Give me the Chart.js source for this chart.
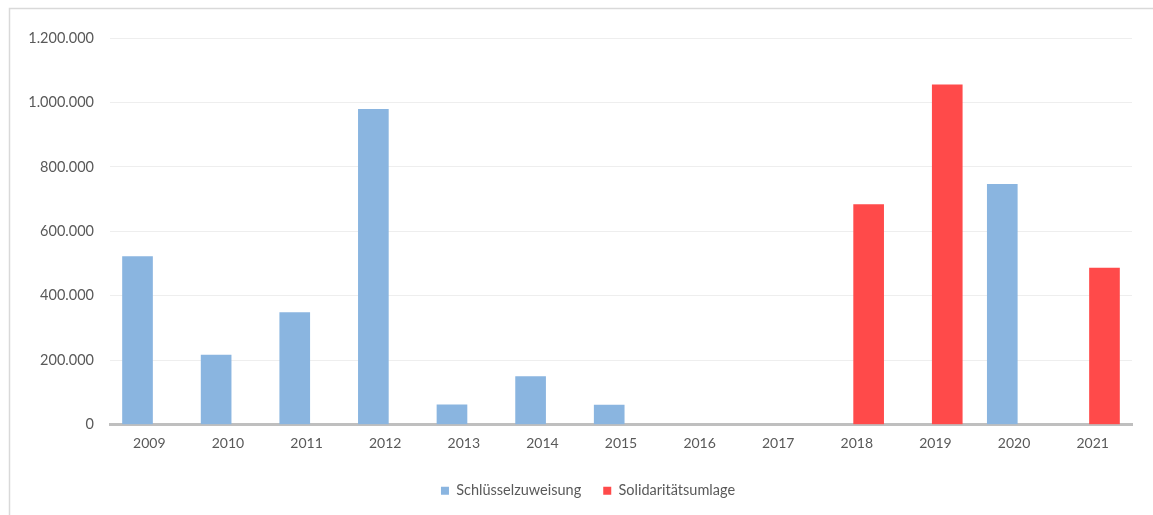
<!DOCTYPE html>
<html><head><meta charset="utf-8">
<script src="https://cdn.jsdelivr.net/npm/chart.js@4.4.0/dist/chart.umd.min.js"></script>
<style>html,body{margin:0;padding:0;background:#fff;overflow:hidden;} #wrap{position:absolute;left:0;top:0;width:1153px;height:515px;}</style>
</head><body><div id="wrap"><canvas id="c" width="1153" height="515"></canvas></div>
<script>
const years = ['2009','2010','2011','2012','2013','2014','2015','2016','2017','2018','2019','2020','2021'];
const schluesselzuweisung = [523000, 217000, 349000, 980000, 63000, 150000, 62000, null, null, null, null, 747000, null];
const solidaritaetsumlage = [null, null, null, null, null, null, null, null, null, 684000, 1056000, null, 487000];
const yTicks = [0, 200000, 400000, 600000, 800000, 1000000, 1200000];
const yTickLabels = ['0', '200.000', '400.000', '600.000', '800.000', '1.000.000', '1.200.000'];

const FONT = 'Lato, "Open Sans", sans-serif';

const framePlugin = {
  id: 'frame',
  beforeDraw(chart) {
    const ctx = chart.ctx;
    ctx.save();
    ctx.strokeStyle = '#d9d9d9';
    ctx.lineWidth = 1.5;
    ctx.beginPath();
    ctx.moveTo(9.5, 515);
    ctx.lineTo(9.5, 8.5);
    ctx.lineTo(1153, 8.5);
    ctx.stroke();
    ctx.restore();
  }
};

// Centre the legend over the plot area (as in the original) instead of the whole canvas
const legendShift = {
  id: 'legendShift',
  afterLayout(chart) {
    const lg = chart.legend;
    if (!lg) return;
    const w = lg.right - lg.left;
    const mid = (chart.chartArea.left + chart.chartArea.right) / 2 - 33;
    lg.left = mid - w / 2;
    lg.right = mid + w / 2;
  }
};

new Chart(document.getElementById('c'), {
  type: 'bar',
  data: {
    labels: years,
    datasets: [
      { label: 'Schlüsselzuweisung', data: schluesselzuweisung, backgroundColor: '#8ab5e0', borderWidth: 0 },
      { label: 'Solidaritätsumlage', data: solidaritaetsumlage, backgroundColor: '#ff4a4a', borderWidth: 0 }
    ]
  },
  options: {
    responsive: false,
    animation: false,
    devicePixelRatio: 1,
    categoryPercentage: 0.60,
    barPercentage: 1.3,
    layout: { padding: { left: 0, right: 21, top: 38, bottom: 7 } },
    plugins: {
      tooltip: { enabled: false },
      legend: {
        position: 'bottom',
        labels: {
          boxWidth: 8, boxHeight: 8, padding: 22,
          color: '#595959',
          font: { family: FONT, size: 14.5 }
        }
      }
    },
    scales: {
      x: {
        grid: { display: false, drawTicks: false },
        border: { display: true, color: '#bfbfbf', width: 3 },
        ticks: { color: '#595959', font: { family: FONT, size: 14 }, padding: 10, maxRotation: 0, autoSkip: false }
      },
      y: {
        min: 0, max: 1200000,
        afterBuildTicks(scale) { scale.ticks = yTicks.map(v => ({ value: v })); },
        afterFit(scale) { scale.width = 110; },
        grid: { color: '#eeeeee', lineWidth: 1, drawTicks: false },
        border: { display: false },
        ticks: {
          color: '#595959', font: { family: FONT, size: 14.5 }, padding: 16,
          callback(value) { const i = yTicks.indexOf(value); return i >= 0 ? yTickLabels[i] : ''; }
        }
      }
    }
  },
  plugins: [framePlugin, legendShift]
});
</script></body></html>
